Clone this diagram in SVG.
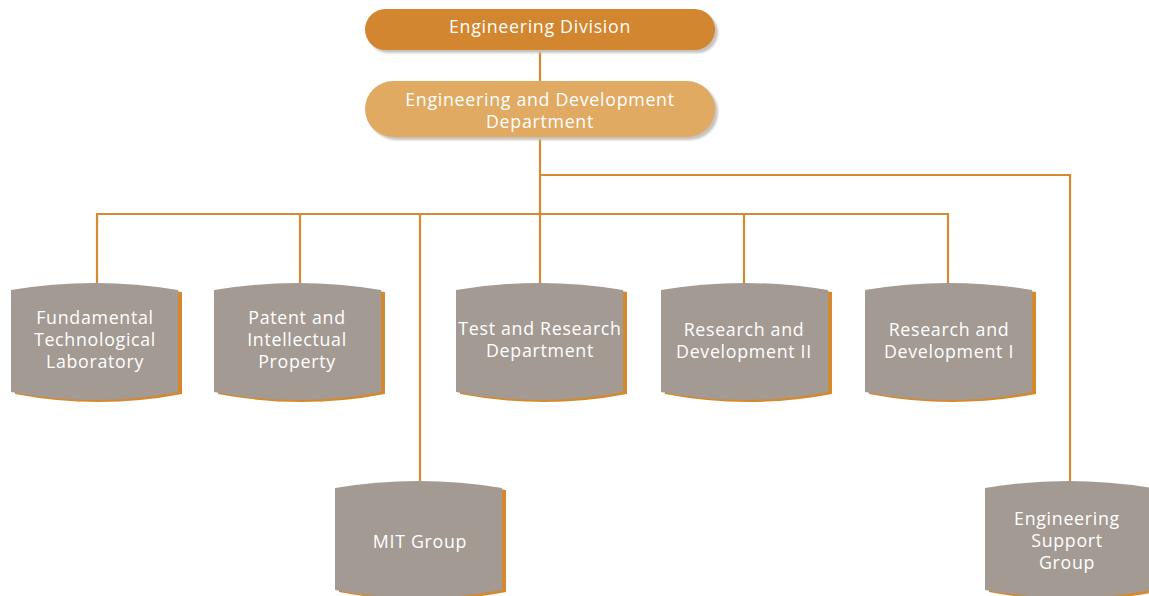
<svg xmlns="http://www.w3.org/2000/svg" xmlns:xlink="http://www.w3.org/1999/xlink" width="1149" height="596" viewBox="0 0 1149 596">
  <style>
    .lbl { font-family: "Open Sans", Lato, "Liberation Sans", sans-serif; font-size: 17.8px; letter-spacing: 0.7px; fill: #ffffff; text-anchor: middle; }
    .conn { fill: none; stroke: #d48a33; stroke-width: 2.2; }
    .drum { fill: #a39a93; }
    .drum-edge { fill: #d4892f; }
  </style>
  <defs>
    <!-- drum-shaped unit box, 167 x 117 -->
    <path id="drum" d="M0,7 Q83.5,-7 167,7 L167,109 Q83.5,125 0,109 Z"/>
    <filter id="soft" x="-5%" y="-20%" width="110%" height="140%">
      <feGaussianBlur stdDeviation="0.8"/>
    </filter>
  </defs>

  <!-- connectors -->
  <g id="connectors" class="conn">
    <path d="M540,50 V81"/>
    <path d="M540,137 V283"/>
    <path d="M97,283 V214 H948 V283"/>
    <path d="M300,214 V283"/>
    <path d="M420,214 V481"/>
    <path d="M744,214 V283"/>
    <path d="M540,175 H1070 V481"/>
  </g>

  <!-- top pill -->
  <g id="engineering-division">
    <rect x="368" y="12" width="350" height="41" rx="20.5" fill="#c8c2bd" filter="url(#soft)"/>
    <rect x="365" y="9" width="350" height="41" rx="20.5" fill="#d2862f"/>
    <text class="lbl" x="540" y="33">Engineering Division</text>
  </g>

  <g id="engineering-development">
    <rect x="368" y="84" width="350" height="56" rx="28" fill="#c8c2bd" filter="url(#soft)"/>
    <rect x="365" y="81" width="350" height="56" rx="28" fill="#e0aa63"/>
    <text class="lbl" x="540" y="106">Engineering and Development</text>
    <text class="lbl" x="540" y="128">Department</text>
  </g>

  <g id="fundamental-lab">
    <use xlink:href="#drum" class="drum-edge" x="15" y="285"/>
    <use xlink:href="#drum" class="drum" x="11" y="283"/>
    <text class="lbl" x="95" y="324">Fundamental</text>
    <text class="lbl" x="95" y="346">Technological</text>
    <text class="lbl" x="95" y="368">Laboratory</text>
  </g>

  <g id="patent">
    <use xlink:href="#drum" class="drum-edge" x="218" y="285"/>
    <use xlink:href="#drum" class="drum" x="214" y="283"/>
    <text class="lbl" x="297" y="324">Patent and</text>
    <text class="lbl" x="297" y="346">Intellectual</text>
    <text class="lbl" x="297" y="368">Property</text>
  </g>

  <g id="test-research">
    <use xlink:href="#drum" class="drum-edge" x="460" y="285"/>
    <use xlink:href="#drum" class="drum" x="456" y="283"/>
    <text class="lbl" x="540" y="335">Test and Research</text>
    <text class="lbl" x="540" y="357">Department</text>
  </g>

  <g id="rnd-2">
    <use xlink:href="#drum" class="drum-edge" x="665" y="285"/>
    <use xlink:href="#drum" class="drum" x="661" y="283"/>
    <text class="lbl" x="744" y="336">Research and</text>
    <text class="lbl" x="744" y="358">Development II</text>
  </g>

  <g id="rnd-1">
    <use xlink:href="#drum" class="drum-edge" x="869" y="285"/>
    <use xlink:href="#drum" class="drum" x="865" y="283"/>
    <text class="lbl" x="949" y="336">Research and</text>
    <text class="lbl" x="949" y="358">Development I</text>
  </g>

  <g id="mit-group">
    <use xlink:href="#drum" class="drum-edge" x="339" y="483"/>
    <use xlink:href="#drum" class="drum" x="335" y="481"/>
    <text class="lbl" x="420" y="548">MIT Group</text>
  </g>

  <g id="engineering-support">
    <use xlink:href="#drum" class="drum-edge" x="989" y="483"/>
    <use xlink:href="#drum" class="drum" x="985" y="481"/>
    <text class="lbl" x="1067" y="525">Engineering</text>
    <text class="lbl" x="1067" y="547">Support</text>
    <text class="lbl" x="1067" y="569">Group</text>
  </g>
</svg>
